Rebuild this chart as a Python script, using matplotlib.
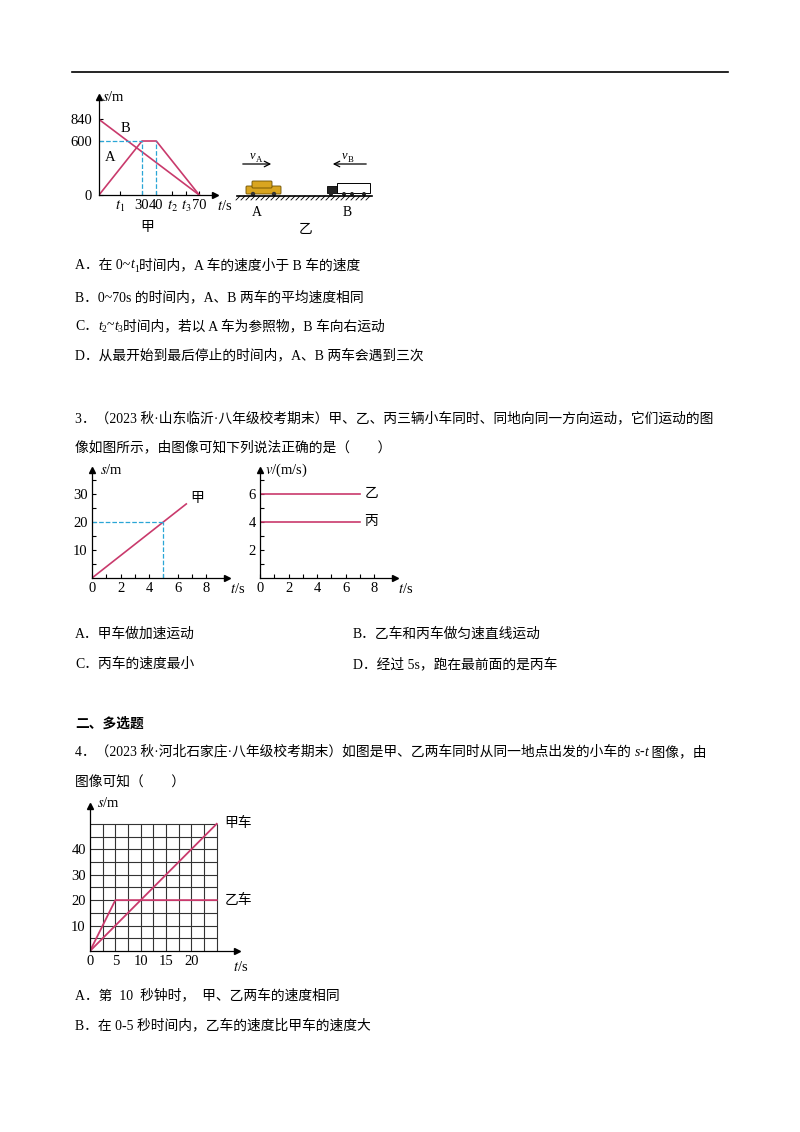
import numpy as np
import matplotlib
matplotlib.use('Agg')
import matplotlib.pyplot as plt
from matplotlib.patches import Rectangle, FancyBboxPatch, Circle

plt.rcParams['font.family'] = ['Liberation Serif', 'Noto Sans CJK SC', 'DejaVu Sans']
plt.rcParams['mathtext.fontset'] = 'stix'

# ---- data ----
# 题2 甲图
q2_t_B = [0, 70]
q2_s_B = [840, 0]
q2_t_A = [0, 30, 40, 70]
q2_s_A = [0, 600, 600, 0]
q2_xticks = [15, 30, 40, 51, 61, 70]
q2_xlabels = ['$t_1$', '30', '40', '$t_2$', '$t_3$', '70']
q2_yticks = [0, 600, 840]

# 题3
q3_t_jia = [0, 6.6]
q3_s_jia = [0, 26.4]
q3_v_yi = 6
q3_v_bing = 4
q3_t_end = 7

# 题4
q4_t_jia = [0, 25]
q4_s_jia = [0, 50]
q4_t_yi = [0, 5, 25]
q4_s_yi = [0, 20, 20]

PINK = '#c93a6c'
CYAN = '#2aa6d6'
FS = 9.9
TFS = 10.5

fig = plt.figure(figsize=(8, 11.32), dpi=100)
bg = fig.add_axes([0, 0, 1, 1])
bg.set_xlim(0, 800)
bg.set_ylim(1132, 0)
bg.axis('off')
renderer = fig.canvas.get_renderer()


def runs(x, y, parts, size=FS, **kw):
    for p in parts:
        if isinstance(p, tuple):
            s, opt = p
        else:
            s, opt = p, {}
        fs = size * (0.7 if opt.get('sub') else 1)
        yy = y + (4 if opt.get('sub') else 0)
        t = bg.text(x, yy, s, fontsize=fs, va='center', ha='left',
                    style='italic' if opt.get('it') else 'normal', **kw)
        x += t.get_window_extent(renderer).width


def make_ax(x0, ybot, w, h, xlim, ylim):
    ax = fig.add_axes([x0 / 800, 1 - ybot / 1132, w / 800, h / 1132])
    ax.set_xlim(*xlim)
    ax.set_ylim(*ylim)
    ax.patch.set_alpha(0)
    for sp in ['top', 'right']:
        ax.spines[sp].set_visible(False)
    for sp in ['left', 'bottom']:
        ax.spines[sp].set_linewidth(0.9)
    ax.plot(1, 0, '>k', ms=4, transform=ax.get_yaxis_transform(), clip_on=False)
    ax.plot(0, 1, '^k', ms=4, transform=ax.get_xaxis_transform(), clip_on=False)
    ax.tick_params(direction='in', length=3, width=0.8, labelsize=TFS, pad=3)
    return ax


# top rule
bg.plot([72, 728], [72, 72], color='black', lw=1.2)

# ---- 题2 甲图 ----
ax1 = make_ax(99, 195, 116, 98, (0, 81), (0, 1089))
ax1.plot(q2_t_B, q2_s_B, color=PINK, lw=1.2)
ax1.plot(q2_t_A, q2_s_A, color=PINK, lw=1.2)
ax1.plot([0, 30], [600, 600], color=CYAN, lw=0.9, ls='--')
ax1.plot([30, 30], [0, 600], color=CYAN, lw=0.9, ls='--')
ax1.plot([40, 40], [0, 600], color=CYAN, lw=0.9, ls='--')
ax1.set_xticks(q2_xticks)
ax1.set_xticklabels(q2_xlabels)
ax1.set_yticks(q2_yticks)
ax1.set_yticklabels([str(v) for v in q2_yticks])
ax1.tick_params(axis='y', pad=5)
ax1.text(1.02, -0.04, '$t$/s', transform=ax1.transAxes, fontsize=TFS, va='top', ha='left')
ax1.text(0.03, 1.0, '$s$/m', transform=ax1.transAxes, fontsize=TFS, va='center')
ax1.text(15, 740, 'B', fontsize=TFS, va='center')
ax1.text(4, 420, 'A', fontsize=TFS, va='center')
bg.text(147, 228, '甲', fontsize=FS, ha='center', va='center')

# ---- 题2 乙图 ----
bg.plot([237, 372], [196, 196], color='black', lw=1.2)
for hx in np.arange(240, 372, 5):
    bg.plot([hx, hx - 4], [196, 200], color='black', lw=0.6)
bg.annotate('', xy=(274, 164), xytext=(240, 164),
            arrowprops=dict(arrowstyle='->', color='black', lw=0.9))
bg.annotate('', xy=(330, 164), xytext=(369, 164),
            arrowprops=dict(arrowstyle='->', color='black', lw=0.9))
runs(250, 156, [('v', {'it': True}), ('A', {'sub': True})], size=9)
runs(342, 156, [('v', {'it': True}), ('B', {'sub': True})], size=9)
# car A
bg.add_patch(FancyBboxPatch((247, 187), 33, 6, boxstyle='round,pad=1', fc='#d9a520', ec='#6b4e00', lw=0.6))
bg.add_patch(FancyBboxPatch((253, 182), 18, 5, boxstyle='round,pad=1', fc='#d9a520', ec='#6b4e00', lw=0.6))
bg.add_patch(Circle((253, 194), 2.2, fc='#333333'))
bg.add_patch(Circle((274, 194), 2.2, fc='#333333'))
# truck B
bg.add_patch(Rectangle((337, 183), 33, 10, fc='white', ec='black', lw=0.7))
bg.add_patch(Rectangle((327, 186), 10, 7, fc='#222222', ec='black', lw=0.6))
for wx in [331, 344, 352, 364]:
    bg.add_patch(Circle((wx, 194), 2, fc='#222222'))
bg.text(257, 212, 'A', fontsize=FS, ha='center', va='center')
bg.text(347, 212, 'B', fontsize=FS, ha='center', va='center')
bg.text(306, 230, '乙', fontsize=FS, ha='center', va='center')

# ---- 题2 选项 ----
runs(75, 265, ['A．在 0~', ('t', {'it': True}), ('1', {'sub': True}), '时间内，A 车的速度小于 B 车的速度'])
runs(75, 297, ['B．0~70s 的时间内，A、B 两车的平均速度相同'])
runs(75, 326, ['C．', ('t', {'it': True}), ('2', {'sub': True}), '~', ('t', {'it': True}), ('3', {'sub': True}),
               '时间内，若以 A 车为参照物，B 车向右运动'])
runs(75, 355, ['D．从最开始到最后停止的时间内，A、B 两车会遇到三次'])

# ---- 题3 ----
runs(75, 418, ['3．（2023 秋·山东临沂·八年级校考期末）甲、乙、丙三辆小车同时、同地向同一方向运动，它们运动的图'])
runs(75, 447, ['像如图所示，由图像可知下列说法正确的是（　　）'])

ax2 = make_ax(92, 578, 135, 108, (0, 9.45), (0, 38.5))
ax2.plot(q3_t_jia, q3_s_jia, color=PINK, lw=1.2)
ax2.plot([0, 5], [20, 20], color=CYAN, lw=0.9, ls='--')
ax2.plot([5, 5], [0, 20], color=CYAN, lw=0.9, ls='--')
ax2.set_xticks([0, 2, 4, 6, 8])
ax2.set_xticks([1, 3, 5, 7], minor=True)
ax2.set_yticks([10, 20, 30])
ax2.set_yticks([5, 15, 25, 35], minor=True)
ax2.tick_params(which='minor', direction='in', length=3, width=0.8)
ax2.text(1.02, -0.04, '$t$/s', transform=ax2.transAxes, fontsize=TFS, va='top')
ax2.text(0.06, 1.0, '$s$/m', transform=ax2.transAxes, fontsize=TFS, va='center')
ax2.text(6.9, 28.5, '甲', fontsize=FS, va='center')

ax3 = make_ax(260, 578, 135, 108, (0, 9.45), (0, 7.7))
ax3.plot([0, q3_t_end], [q3_v_yi, q3_v_yi], color=PINK, lw=1.2)
ax3.plot([0, q3_t_end], [q3_v_bing, q3_v_bing], color=PINK, lw=1.2)
ax3.set_xticks([0, 2, 4, 6, 8])
ax3.set_xticks([1, 3, 5, 7], minor=True)
ax3.set_yticks([2, 4, 6])
ax3.set_yticks([1, 3, 5, 7], minor=True)
ax3.tick_params(which='minor', direction='in', length=3, width=0.8)
ax3.text(1.02, -0.04, '$t$/s', transform=ax3.transAxes, fontsize=TFS, va='top')
ax3.text(0.04, 1.0, '$v$/(m/s)', transform=ax3.transAxes, fontsize=TFS, va='center')
ax3.text(7.3, q3_v_yi, '乙', fontsize=FS, va='center')
ax3.text(7.3, q3_v_bing, '丙', fontsize=FS, va='center')

runs(75, 634, ['A．甲车做加速运动'])
runs(353, 634, ['B．乙车和丙车做匀速直线运动'])
runs(75, 664, ['C．丙车的速度最小'])
runs(353, 664, ['D．经过 5s，跑在最前面的是丙车'])

# ---- 二、多选题 ----
bg.text(75, 724, '二、多选题', fontsize=FS, fontweight='bold', va='center')
runs(75, 752, ['4．（2023 秋·河北石家庄·八年级校考期末）如图是甲、乙两车同时从同一地点出发的小车的 ',
               ('s', {'it': True}), '-', ('t', {'it': True}), ' 图像，由'])
runs(75, 783, ['图像可知（　　）'])

ax4 = make_ax(90, 951, 147, 145, (0, 29), (0, 57))
ax4.vlines(np.arange(2.5, 25.1, 2.5), 0, 50, color='#333333', lw=0.8)
ax4.hlines(np.arange(5, 50.1, 5), 0, 25, color='#333333', lw=0.8)
ax4.plot(q4_t_jia, q4_s_jia, color=PINK, lw=1.3)
ax4.plot(q4_t_yi, q4_s_yi, color=PINK, lw=1.3)
ax4.set_xticks([0, 5, 10, 15, 20])
ax4.set_yticks([10, 20, 30, 40])
ax4.tick_params(length=0)
ax4.text(0.97, -0.06, '$t$/s', transform=ax4.transAxes, fontsize=TFS, va='top')
ax4.text(0.05, 1.02, '$s$/m', transform=ax4.transAxes, fontsize=TFS, va='center')
ax4.text(26.5, 50, '甲车', fontsize=FS, va='center')
ax4.text(26.5, 20, '乙车', fontsize=FS, va='center')

runs(75, 995, ['A．第  10  秒钟时，  甲、乙两车的速度相同'])
runs(75, 1025, ['B．在 0-5 秒时间内，乙车的速度比甲车的速度大'])

fig.savefig('out.png', dpi=100)
